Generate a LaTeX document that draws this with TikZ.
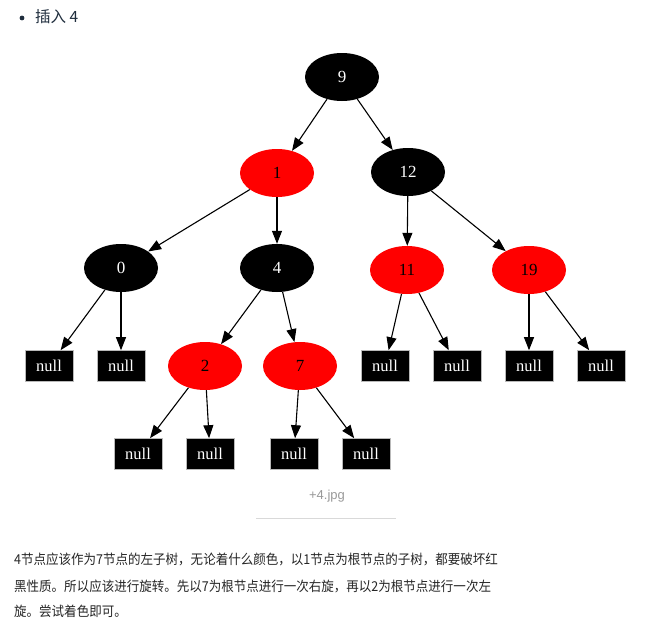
\documentclass[tikz,border=0pt]{standalone}
\usepackage{fontspec}
\setmainfont{Liberation Serif}
\newfontfamily\cjk{Noto Sans CJK SC}
\newfontfamily\cjknarrow[FakeStretch=0.92]{Noto Sans CJK SC}
\newfontfamily\captionfont{Liberation Sans}
\usetikzlibrary{shapes.geometric,arrows.meta}

\definecolor{inkdark}{HTML}{1F2D3D}
\definecolor{bodytext}{HTML}{262626}
\definecolor{captiongray}{HTML}{999999}
\definecolor{rulegray}{HTML}{D9D9D9}

\begin{document}
\begin{tikzpicture}[x=1pt,y=-1pt,
  rbnode/.style={ellipse, minimum width=74pt, minimum height=48pt, inner sep=0pt,
                 font=\fontsize{17}{17}\selectfont},
  blacknode/.style={rbnode, fill=black, text=white},
  rednode/.style={rbnode, fill=red, text=black},
  nullbox/.style={rectangle, fill=black, draw=gray!55, line width=0.6pt,
                  minimum width=48pt, minimum height=31pt, inner sep=0pt,
                  text=white, font=\fontsize{16.5}{16.5}\selectfont},
  edge/.style={-{Triangle[length=13pt,width=10pt]}, line width=1.1pt},
  bodyline/.style={anchor=west, inner sep=0pt, text=bodytext,
                   font=\cjknarrow\fontsize{13.6}{13.6}\selectfont}
]
\useasboundingbox[fill=white] (0,0) rectangle (672,640);

% heading bullet
\fill[inkdark] (22,18) circle (2.4);
\node[anchor=west, inner sep=0pt, text=inkdark, font=\cjk\fontsize{15.5}{15.5}\selectfont]
  (title) at (35,17) {插入 4};

% tree nodes
\node[blacknode] (n9)  at (342,77)  {9};
\node[rednode]   (n1)  at (277,173) {1};
\node[blacknode] (n12) at (408,172) {12};
\node[blacknode] (n0)  at (121,268) {0};
\node[blacknode] (n4)  at (277,268) {4};
\node[rednode]   (n11) at (407,270) {11};
\node[rednode]   (n19) at (529,270) {19};
\node[rednode]   (n2)  at (205,366) {2};
\node[rednode]   (n7)  at (300,366) {7};

% leaves
\node[nullbox] (z1) at (49,366)  {null};
\node[nullbox] (z2) at (121,366) {null};
\node[nullbox] (z3) at (385,366) {null};
\node[nullbox] (z4) at (457,366) {null};
\node[nullbox] (z5) at (529,366) {null};
\node[nullbox] (z6) at (601,366) {null};
\node[nullbox] (z7) at (138,454) {null};
\node[nullbox] (z8) at (210,454) {null};
\node[nullbox] (z9) at (294,454) {null};
\node[nullbox] (z10) at (366,454) {null};

% edges
\draw[edge] (n9) -- (n1);
\draw[edge] (n9) -- (n12);
\draw[edge] (n1) -- (n0);
\draw[edge] (n1) -- (n4);
\draw[edge] (n12) -- (n11);
\draw[edge] (n12) -- (n19);
\draw[edge] (n0) -- (z1);
\draw[edge] (n0) -- (z2);
\draw[edge] (n4) -- (n2);
\draw[edge] (n4) -- (n7);
\draw[edge] (n11) -- (z3);
\draw[edge] (n11) -- (z4);
\draw[edge] (n19) -- (z5);
\draw[edge] (n19) -- (z6);
\draw[edge] (n2) -- (z7);
\draw[edge] (n2) -- (z8);
\draw[edge] (n7) -- (z9);
\draw[edge] (n7) -- (z10);

% caption
\node[inner sep=0pt, text=captiongray, font=\captionfont\fontsize{13}{13}\selectfont]
  (cap) at (327,496) {+4.jpg};
\draw[rulegray, line width=0.8pt] (256,518) -- (396,518);

% explanation text
\node[bodyline] (l1) at (14,559) {4节点应该作为7节点的左子树，无论着什么颜色，以1节点为根节点的子树，都要破坏红};
\node[bodyline] (l2) at (14,586) {黑性质。所以应该进行旋转。先以7为根节点进行一次右旋，再以2为根节点进行一次左};
\node[bodyline] (l3) at (14,611) {旋。尝试着色即可。};
\end{tikzpicture}
\end{document}
